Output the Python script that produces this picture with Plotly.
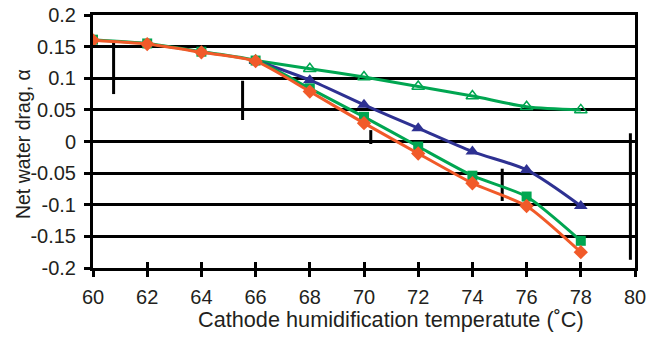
import plotly.graph_objects as go

# Data
temps_all = [60, 62, 64, 66, 68, 70, 72, 74, 76, 78]
orange_diamond = [0.160, 0.154, 0.141, 0.127, 0.079, 0.029, -0.019, -0.066, -0.102, -0.175]
green_square = [0.161, 0.155, 0.142, 0.128, 0.084, 0.039, -0.008, -0.054, -0.087, -0.157]

temps_late = [66, 68, 70, 72, 74, 76, 78]
blue_triangle = [0.128, 0.097, 0.058, 0.021, -0.016, -0.045, -0.102]
green_open_triangle = [0.128, 0.115, 0.102, 0.087, 0.072, 0.055, 0.050]

# Vertical bar segments (x, top, bottom)
bar_x = [60.76, 65.52, 70.25, 75.10, 79.83]
bar_top = [0.158, 0.096, 0.018, -0.043, 0.013]
bar_bottom = [0.075, 0.034, -0.004, -0.094, -0.187]

x_ticks = list(range(60, 81, 2))
y_ticks = [0.2, 0.15, 0.1, 0.05, 0, -0.05, -0.1, -0.15, -0.2]
y_tick_text = ["0.2", "0.15", "0.1", "0.05", "0", "-0.05", "-0.1", "-0.15", "-0.2"]

x_title = "Cathode humidification temperatute (˚C)"
y_title = "Net water drag, α"

ORANGE = "#F15A29"
GREEN = "#00A651"
BLUE = "#2E3192"
TXT = "#231F20"
FONT = "Liberation Sans, Arial, sans-serif"

fig = go.Figure()

# vertical bars
bx, by = [], []
for x, t, b in zip(bar_x, bar_top, bar_bottom):
    bx += [x, x, None]
    by += [t, b, None]
fig.add_trace(go.Scatter(x=bx, y=by, mode="lines", line=dict(color="black", width=3),
                         showlegend=False, hoverinfo="skip"))

fig.add_trace(go.Scatter(x=temps_late, y=green_open_triangle, mode="lines+markers",
                         line=dict(color=GREEN, width=3, shape="spline", smoothing=0.8),
                         marker=dict(symbol="triangle-up-open", size=11, color=GREEN,
                                     line=dict(width=1.5, color=GREEN)),
                         showlegend=False))
fig.add_trace(go.Scatter(x=temps_late, y=blue_triangle, mode="lines+markers",
                         line=dict(color=BLUE, width=3, shape="spline", smoothing=0.8),
                         marker=dict(symbol="triangle-up", size=12, color=BLUE),
                         showlegend=False))
fig.add_trace(go.Scatter(x=temps_all, y=green_square, mode="lines+markers",
                         line=dict(color=GREEN, width=3, shape="spline", smoothing=0.6),
                         marker=dict(symbol="square", size=10, color=GREEN),
                         showlegend=False))
fig.add_trace(go.Scatter(x=temps_all, y=orange_diamond, mode="lines+markers",
                         line=dict(color=ORANGE, width=3, shape="spline", smoothing=0.6),
                         marker=dict(symbol="diamond", size=11, color=ORANGE),
                         showlegend=False))

# dummy trace for overlay axes (inside halves of crossing ticks)
fig.add_trace(go.Scatter(x=[None], y=[None], xaxis="x2", yaxis="y2", showlegend=False))

fig.update_layout(
    width=649, height=338,
    margin=dict(l=93, r=14, t=15, b=70, autoexpand=False),
    paper_bgcolor="white", plot_bgcolor="white",
    font=dict(family=FONT, color=TXT, size=20),
    xaxis=dict(range=[60, 80], tickvals=x_ticks, ticks="outside", ticklen=6, tickwidth=3,
               tickcolor="black", showline=True, linecolor="black", linewidth=3, mirror=True,
               showgrid=False, zeroline=False, ticklabelstandoff=3,
               tickfont=dict(size=20, family=FONT, color=TXT)),
    yaxis=dict(range=[-0.2, 0.2], tickvals=y_ticks, ticktext=y_tick_text, ticks="outside",
               ticklen=6, tickwidth=3, tickcolor="black", showline=True, linecolor="black",
               linewidth=3, mirror=True, showgrid=True, gridcolor="black", gridwidth=2.5,
               zeroline=False, ticklabelstandoff=4,
               tickfont=dict(size=20, family=FONT, color=TXT)),
    xaxis2=dict(range=[60, 80], tickvals=x_ticks, ticks="inside", ticklen=6, tickwidth=3,
                tickcolor="black", showticklabels=False, showline=False, showgrid=False,
                zeroline=False, overlaying="x", anchor="y2", side="bottom"),
    yaxis2=dict(range=[-0.2, 0.2], tickvals=y_ticks, ticks="inside", ticklen=6, tickwidth=3,
                tickcolor="black", showticklabels=False, showline=False, showgrid=False,
                zeroline=False, overlaying="y", anchor="x2", side="left"),
    annotations=[
        dict(text=x_title, xref="paper", yref="paper", x=0.55, y=-0.2055,
             xanchor="center", yanchor="middle", showarrow=False,
             font=dict(size=21.7, family=FONT, color=TXT)),
        dict(text=y_title, xref="paper", yref="paper", x=-0.129, y=0.49, textangle=-90,
             xanchor="center", yanchor="middle", showarrow=False,
             font=dict(size=19.5, family=FONT, color=TXT)),
    ],
)

fig.write_html("out.html")
